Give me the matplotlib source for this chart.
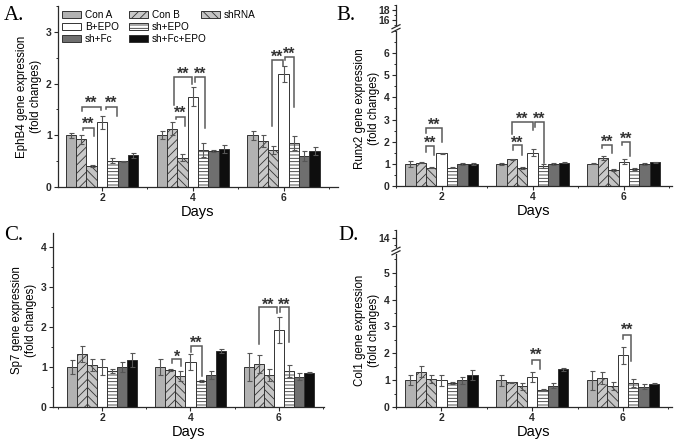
import matplotlib.pyplot as plt
from matplotlib.ticker import MultipleLocator
from matplotlib.transforms import ScaledTranslation

plt.rcParams['font.family'] = ['Liberation Sans', 'DejaVu Sans']
plt.rcParams['hatch.linewidth'] = 0.6

days = [2, 4, 6]
groups = ["Con A", "Con B", "shRNA", "B+EPO", "sh+EPO", "sh+Fc", "sh+Fc+EPO"]

# rows = day 2, 4, 6; columns follow `groups`
ephb4_mean = [[1.00, 0.92, 0.41, 1.25, 0.51, 0.50, 0.61],
              [1.00, 1.13, 0.57, 1.75, 0.72, 0.70, 0.74],
              [1.00, 0.89, 0.71, 2.19, 0.85, 0.60, 0.69]]
ephb4_err = [[0.05, 0.08, 0.02, 0.12, 0.05, 0.01, 0.05],
             [0.08, 0.12, 0.06, 0.18, 0.14, 0.02, 0.08],
             [0.09, 0.12, 0.08, 0.15, 0.14, 0.09, 0.08]]

runx2_mean = [[1.00, 1.05, 0.83, 1.48, 0.82, 1.00, 1.00],
              [1.00, 1.20, 0.80, 1.50, 0.90, 1.00, 1.05],
              [1.00, 1.27, 0.72, 1.10, 0.75, 1.00, 1.08]]
runx2_err = [[0.15, 0.03, 0.03, 0.03, 0.02, 0.05, 0.03],
             [0.03, 0.03, 0.05, 0.15, 0.10, 0.05, 0.02],
             [0.02, 0.10, 0.05, 0.10, 0.05, 0.03, 0.02]]

sp7_mean = [[1.00, 1.32, 1.06, 1.00, 0.90, 1.00, 1.18],
            [1.00, 0.92, 0.77, 1.12, 0.65, 0.80, 1.40],
            [1.00, 1.08, 0.80, 1.93, 0.90, 0.76, 0.86]]
sp7_err = [[0.18, 0.20, 0.15, 0.20, 0.05, 0.13, 0.18],
           [0.20, 0.03, 0.12, 0.20, 0.02, 0.10, 0.05],
           [0.35, 0.22, 0.15, 0.32, 0.15, 0.08, 0.02]]

col1_mean = [[1.00, 1.32, 1.06, 1.00, 0.90, 1.00, 1.18],
             [1.00, 0.92, 0.77, 1.12, 0.65, 0.80, 1.40],
             [1.00, 1.08, 0.80, 1.93, 0.90, 0.76, 0.86]]
col1_err = [[0.18, 0.20, 0.15, 0.20, 0.05, 0.13, 0.18],
            [0.20, 0.03, 0.12, 0.20, 0.02, 0.10, 0.05],
            [0.35, 0.22, 0.15, 0.32, 0.15, 0.08, 0.02]]

# significance brackets: (day, left bar, right bar, top, left foot, right foot, text, text y)
ephb4_sig = [(2, 1.2, 2.2, 1.15, 1.10, 0.99, "**", 1.27),
             (2, 1.1, 2.9, 1.55, 1.46, 1.48, "**", 1.67),
             (2, 3.35, 4.4, 1.55, 1.51, 1.37, "**", 1.67),
             (4, 1.4, 2.2, 1.36, 1.31, 1.18, "**", 1.48),
             (4, 1.15, 2.93, 2.12, 1.59, 2.00, "**", 2.24),
             (4, 3.2, 4.2, 2.12, 2.04, 1.14, "**", 2.24),
             (6, 1.9, 2.93, 2.46, 1.18, 2.34, "**", 2.57),
             (6, 3.1, 4.05, 2.51, 2.46, 1.55, "**", 2.62)]
runx2_sig = [(2, 1.46, 2.26, 1.80, 1.55, 1.40, "**", 2.05),
             (2, 1.46, 3.07, 2.60, 2.38, 2.00, "**", 2.88),
             (4, 1.1, 2.0, 1.83, 1.63, 1.40, "**", 2.08),
             (4, 1.0, 3.0, 2.88, 2.34, 2.53, "**", 3.13),
             (4, 3.26, 4.09, 2.88, 2.68, 1.03, "**", 3.13),
             (6, 0.9, 1.85, 1.86, 1.70, 1.48, "**", 2.12),
             (6, 2.8, 3.6, 2.00, 1.86, 1.37, "**", 2.26)]
sp7_sig = [(4, 1.2, 2.1, 1.19, 1.11, 1.03, "*", 1.33),
           (4, 3.03, 4.1, 1.53, 1.38, 0.78, "**", 1.68),
           (6, 1.03, 2.77, 2.49, 1.58, 2.34, "**", 2.62),
           (6, 3.1, 4.03, 2.49, 2.38, 1.63, "**", 2.62)]
col1_sig = [(4, 3.0, 3.8, 1.75, 1.60, 1.40, "**", 2.02),
            (6, 3.0, 3.8, 2.70, 2.52, 1.72, "**", 2.96)]

BW = 0.228
EDGE = "#333333"
styles = [dict(facecolor="#b2b2b2", hatch=None),
          dict(facecolor="#c9c9c9", hatch="////"),
          dict(facecolor="#c4c4c4", hatch="\\\\\\\\"),
          dict(facecolor="white", hatch=None),
          dict(facecolor="white", hatch="-----"),
          dict(facecolor="#6f6f6f", hatch=None),
          dict(facecolor="#0e0e0e", hatch=None)]

W, H = 674, 444


def rect(l, r, b, t):
    return [l / W, 1 - b / H, (r - l) / W, (b - t) / H]


def style_axis(ax, bottom=True):
    for s in ["top", "right"]:
        ax.spines[s].set_visible(False)
    for s in ["left", "bottom"]:
        ax.spines[s].set_linewidth(0.9)
        ax.spines[s].set_color("#2a2a2a")
    ax.tick_params(which="major", direction="out", length=3, width=0.8,
                   labelsize=7.5, pad=1.5, colors="#2a2a2a")
    ax.tick_params(which="minor", direction="out", length=1.6, width=0.7,
                   colors="#2a2a2a")
    for lab in ax.get_yticklabels() + ax.get_xticklabels():
        lab.set_fontweight("bold")
    if not bottom:
        ax.spines["bottom"].set_visible(False)
        ax.tick_params(axis="x", which="both", bottom=False, labelbottom=False)


def bar_panel(fig, ax, mean, err, sig, ylabel, xlim, ylim, yticks):
    for i, name in enumerate(groups):
        xs = [d + (i - 3) * BW for d in days]
        ax.bar(xs, [m[i] for m in mean], BW, yerr=[e[i] for e in err],
               edgecolor=EDGE, linewidth=0.7, label=name,
               error_kw=dict(ecolor="#555555", elinewidth=0.8, capsize=1.8,
                             capthick=0.8), **styles[i])
    # asterisks sit high in the glyph box, pull them down a little
    star_tr = ax.transData + ScaledTranslation(0, -0.03, fig.dpi_scale_trans)
    for day, a, b, top, fa, fb, txt, ty in sig:
        xa = day + (a - 3) * BW
        xb = day + (b - 3) * BW
        ax.plot([xa, xa, xb, xb], [fa, top, top, fb], color="#5a5a5a", lw=1.1,
                solid_joinstyle="miter")
        ax.text((xa + xb) / 2, ty, txt, ha="center", va="center",
                fontsize=11.5, fontweight="bold", color="#333333",
                transform=star_tr)
    ax.set_xlim(*xlim)
    ax.set_ylim(*ylim)
    ax.set_xticks(days)
    ax.xaxis.set_minor_locator(MultipleLocator(1))
    ax.set_yticks(yticks)
    ax.yaxis.set_minor_locator(MultipleLocator(0.5))
    ax.set_xlabel("Days", fontsize=10.5, labelpad=1)
    ax.set_ylabel(ylabel, fontsize=8.3, labelpad=3, linespacing=1.15)
    style_axis(ax)


def upper_stub(fig, r, ylim, ticks, minor):
    ax = fig.add_axes(r)
    ax.set_facecolor("none")
    ax.set_ylim(*ylim)
    ax.set_yticks(ticks)
    ax.yaxis.set_minor_locator(MultipleLocator(minor))
    style_axis(ax, bottom=False)
    return ax


def break_mark(fig, x_px, y_px):
    fig.add_artist(plt.Line2D([x_px / W, x_px / W],
                              [1 - (y_px + 1.5) / H, 1 - (y_px - 1.5) / H],
                              color="white", lw=1.5))
    for dy in (-1.8, 1.8):
        fig.add_artist(plt.Line2D([(x_px - 4) / W, (x_px + 4) / W],
                                  [1 - (y_px + dy + 2) / H, 1 - (y_px + dy - 2) / H],
                                  color="#2a2a2a", lw=0.9))


fig = plt.figure(figsize=(6.74, 4.44), dpi=100)

axA = fig.add_axes(rect(58, 338, 187, 6))
bar_panel(fig, axA, ephb4_mean, ephb4_err, ephb4_sig,
          "EphB4 gene expression\n(fold changes)", (1.03, 7.2), (0, 3.5), [0, 1, 2, 3])

axB = fig.add_axes(rect(396, 672, 186, 31))
bar_panel(fig, axB, runx2_mean, runx2_err, runx2_sig,
          "Runx2 gene expression\n(fold changes)", (1.0, 7.06), (0, 7.0), range(7))
upper_stub(fig, rect(396, 672, 26, 5), (14.8, 19), [16, 18], 1)
break_mark(fig, 396, 28.5)

axC = fig.add_axes(rect(53, 324, 407, 233))
bar_panel(fig, axC, sp7_mean, sp7_err, sp7_sig,
          "Sp7 gene expression\n(fold changes)", (0.89, 7.02), (0, 4.35), range(5))

axD = fig.add_axes(rect(396, 672, 407, 254))
bar_panel(fig, axD, col1_mean, col1_err, col1_sig,
          "Col1 gene expression\n(fold changes)", (1.0, 7.08), (0, 5.7), range(6))
upper_stub(fig, rect(396, 672, 248, 230), (13.3, 14.5), [14], 0.5)
break_mark(fig, 396, 251)

# legend in panel A: two columns of three, shRNA on its own to the right
hs, ls = axA.get_legend_handles_labels()
order = [0, 3, 5, 1, 4, 6]
kw = dict(frameon=False, fontsize=7.2, handlelength=1.9, handleheight=0.75,
          handletextpad=0.4, labelspacing=0.2, borderpad=0.2, borderaxespad=0.2)
leg1 = axA.legend([hs[k] for k in order], [ls[k] for k in order], ncol=2,
                  loc="upper left", bbox_to_anchor=(0.0, 1.0), columnspacing=1.0, **kw)
axA.add_artist(leg1)
axA.legend([hs[2]], [ls[2]], loc="upper left", bbox_to_anchor=(0.495, 1.0), **kw)

for x, y, t in [(4, 6, "A."), (336, 6, "B."), (4, 226, "C."), (338, 226, "D.")]:
    fig.text(x / W, 1 - y / H, t, fontsize=15, family="Liberation Serif",
             ha="left", va="top")

fig.savefig("out.png", dpi=100)
